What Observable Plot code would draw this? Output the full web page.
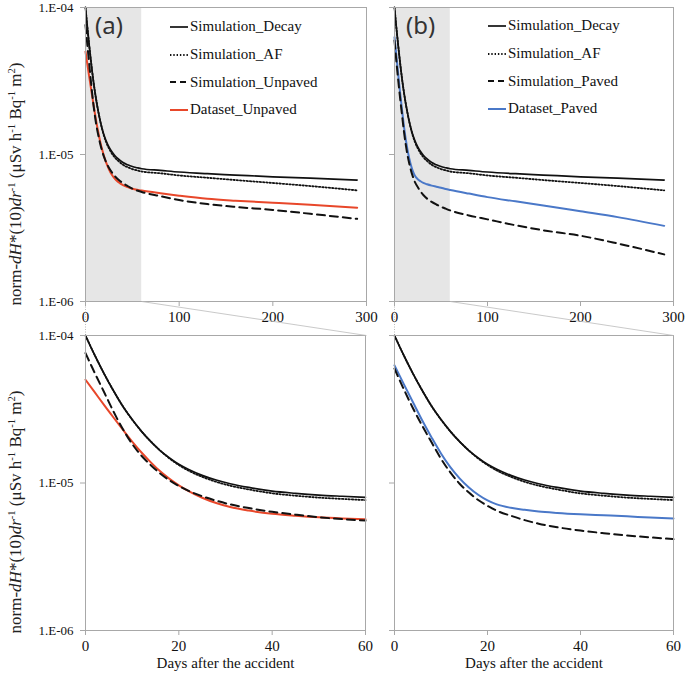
<!DOCTYPE html>
<html><head><meta charset="utf-8">
<script src="https://cdn.jsdelivr.net/npm/d3@7"></script>
<script src="https://cdn.jsdelivr.net/npm/@observablehq/plot@0.6"></script>
<style>
body{margin:0;background:#fff;}
#root{position:relative;width:685px;height:675px;overflow:hidden;font-family:"Liberation Serif","Times New Roman",serif;background:#fff;}
#root svg{position:absolute;}
.ytitle{position:absolute;white-space:nowrap;font-size:17px;color:#222;transform:translate(-50%,-50%) rotate(-90deg);line-height:1;}
.ytitle sup{font-size:0.62em;vertical-align:0.55em;line-height:0;}
.legend{position:absolute;font-size:15px;color:#111;}
.legend .row{display:flex;align-items:center;height:27.7px;}
.legend svg{position:static !important;margin-right:1px;}
.tag{position:absolute;font-family:"Noto Sans",sans-serif;font-size:24px;color:#333;line-height:1;}
</style></head><body><div id="root"></div>
<script>
// ---- data ----
const days = [0,2,4,6,8,10,12,14,16,18,20,22,25,28,31,35,40,45,50,55,60,80,100,130,160,200,240,290];
const simDecay = [1.0e-4,7.33e-5,5.5e-5,4.22e-5,3.31e-5,2.69e-5,2.24e-5,1.91e-5,1.66e-5,1.48e-5,1.34e-5,1.24e-5,1.127e-5,1.047e-5,9.89e-6,9.33e-6,8.81e-6,8.51e-6,8.28e-6,8.13e-6,8.0e-6,7.8e-6,7.6e-6,7.4e-6,7.25e-6,7.05e-6,6.9e-6,6.7e-6];
const simAF = [1.0e-4,7.33e-5,5.5e-5,4.22e-5,3.31e-5,2.69e-5,2.24e-5,1.91e-5,1.66e-5,1.466e-5,1.324e-5,1.216e-5,1.102e-5,1.019e-5,9.59e-6,9.04e-6,8.51e-6,8.2e-6,7.96e-6,7.8e-6,7.66e-6,7.45e-6,7.2e-6,6.95e-6,6.7e-6,6.4e-6,6.1e-6,5.7e-6];
const simUnpaved = [7.59e-5,5.56e-5,4.12e-5,3.05e-5,2.32e-5,1.84e-5,1.53e-5,1.32e-5,1.16e-5,1.042e-5,9.55e-6,8.87e-6,8.13e-6,7.59e-6,7.16e-6,6.76e-6,6.38e-6,6.1e-6,5.86e-6,5.69e-6,5.56e-6,5.2e-6,4.9e-6,4.6e-6,4.4e-6,4.2e-6,3.95e-6,3.65e-6];
const dataUnpaved = [5.01e-5,4.11e-5,3.37e-5,2.78e-5,2.3e-5,1.91e-5,1.61e-5,1.38e-5,1.2e-5,1.067e-5,9.64e-6,8.83e-6,7.94e-6,7.31e-6,6.87e-6,6.5e-6,6.19e-6,6.0e-6,5.85e-6,5.75e-6,5.68e-6,5.45e-6,5.25e-6,5.0e-6,4.85e-6,4.7e-6,4.55e-6,4.35e-6];
const simPaved = [5.96e-5,4.32e-5,3.2e-5,2.43e-5,1.88e-5,1.46e-5,1.18e-5,9.89e-6,8.61e-6,7.67e-6,7.0e-6,6.49e-6,6.0e-6,5.6e-6,5.3e-6,5.01e-6,4.76e-6,4.57e-6,4.41e-6,4.28e-6,4.16e-6,3.85e-6,3.62e-6,3.3e-6,3.05e-6,2.8e-6,2.48e-6,2.09e-6];
const dataPaved = [6.27e-5,4.68e-5,3.51e-5,2.64e-5,2.03e-5,1.585e-5,1.28e-5,1.076e-5,9.33e-6,8.32e-6,7.62e-6,7.16e-6,6.79e-6,6.58e-6,6.41e-6,6.27e-6,6.14e-6,6.04e-6,5.94e-6,5.83e-6,5.74e-6,5.42e-6,5.13e-6,4.8e-6,4.5e-6,4.11e-6,3.75e-6,3.27e-6];

const yTicks = [1e-4, 1e-5, 1e-6];
const yTickLabels = ["1.E-04", "1.E-05", "1.E-06"];
const xTicksTop = [0, 100, 200, 300];
const xTicksBottom = [0, 20, 40, 60];
const zoomWindow = [0, 60];
const panelTags = ["(a)", "(b)"];
const legendA = ["Simulation_Decay", "Simulation_AF", "Simulation_Unpaved", "Dataset_Unpaved"];
const legendB = ["Simulation_Decay", "Simulation_AF", "Simulation_Paved", "Dataset_Paved"];
const xTitle = "Days after the accident";

// ---- styles ----
const FONT = '"Liberation Serif", "Times New Roman", serif';
const RED = "#e8472a", BLUE = "#4a78c8", GRID = "#a8a8a8", SHADE = "#e6e6e6";
const styles = [
  {stroke: "#111", strokeWidth: 1.7},
  {stroke: "#111", strokeWidth: 1.8, strokeDasharray: "1.4,1.9"},
  {stroke: "#111", strokeWidth: 2, strokeDasharray: "8,5"},
  null
];

const root = document.getElementById("root");

function rows(vals, maxDay) {
  return days.map((d, i) => ({day: d, value: vals[i]})).filter(r => r.day <= maxDay);
}

function makePanel({left, top, width, height, mL, mR, mT, mB, xMax, xTicks, labelsY, series, color, top_, withTitle}) {
  const fmt = d => labelsY ? yTickLabels[yTicks.indexOf(d)] : "";
  const marks = [];
  if (top_) {
    marks.push(Plot.rect([{x1: zoomWindow[0], x2: zoomWindow[1]}], {x1: "x1", x2: "x2", fill: SHADE}));
  }
  const [decay, af, sim, dat] = series;
  marks.push(
    Plot.line(rows(decay, xMax), {x: "day", y: "value", curve: "monotone-x", ...styles[0]}),
    Plot.line(rows(af, xMax), {x: "day", y: "value", curve: "monotone-x", ...styles[1]}),
    Plot.line(rows(dat, xMax), {x: "day", y: "value", curve: "monotone-x", stroke: color, strokeWidth: 2}),
    Plot.line(rows(sim, xMax), {x: "day", y: "value", curve: "monotone-x", ...styles[2]}),
    Plot.frame({stroke: GRID, strokeWidth: 1}),
    Plot.axisY({ticks: yTicks, tickFormat: fmt, tickSize: 5, tickPadding: 7, fontSize: 13, fontFamily: FONT, stroke: GRID, fill: "#111", label: null}),
    Plot.axisX({ticks: xTicks, tickFormat: d => String(d), tickSize: 5, tickPadding: 5, fontSize: 15, fontFamily: FONT, stroke: GRID, fill: "#111", label: null})
  );
  if (top_) {
    const pxPerDecade = (height - mT - mB) / 2;
    const gapDecades = 34 / pxPerDecade;
    const yLow = yTicks[2] / Math.pow(10, gapDecades);
    marks.push(
      Plot.link([{x1: zoomWindow[1], y1: yTicks[2], x2: xTicksTop[3], y2: yLow}], {x1: "x1", y1: "y1", x2: "x2", y2: "y2", stroke: "#bbb", strokeWidth: 0.8, clip: false}),
      Plot.link([{x1: zoomWindow[0], y1: yTicks[2], x2: zoomWindow[0], y2: yLow}], {x1: "x1", y1: "y1", x2: "x2", y2: "y2", stroke: "#aaa", strokeWidth: 0.8, strokeDasharray: "1,1.5", clip: false})
    );
  }
  if (withTitle) {
    marks.push(Plot.text([xTitle], {text: d => d, frameAnchor: "bottom", dy: 37, fontSize: 15, fontFamily: FONT, fill: "#111"}));
  }
  const svg = Plot.plot({
    width, height, marginLeft: mL, marginRight: mR, marginTop: mT, marginBottom: mB,
    x: {type: "linear", domain: [0, xMax]},
    y: {type: "log", domain: [yTicks[2], yTicks[0]]},
    style: {fontFamily: FONT, fontSize: "15px", background: "transparent", overflow: "visible", color: "#111"},
    marks
  });
  svg.style.left = left + "px";
  svg.style.top = top + "px";
  root.appendChild(svg);
}

makePanel({left: 0, top: 320, width: 370, height: 355, mL: 85, mR: 5, mT: 15, mB: 45, xMax: 60, xTicks: xTicksBottom, labelsY: true, series: [simDecay, simAF, simUnpaved, dataUnpaved], color: RED, top_: false, withTitle: true});
makePanel({left: 340, top: 320, width: 345, height: 355, mL: 54, mR: 12, mT: 15, mB: 45, xMax: 60, xTicks: xTicksBottom, labelsY: false, series: [simDecay, simAF, simPaved, dataPaved], color: BLUE, top_: false, withTitle: true});
makePanel({left: 0, top: 0, width: 370, height: 330, mL: 85, mR: 4, mT: 7, mB: 29, xMax: 300, xTicks: xTicksTop, labelsY: true, series: [simDecay, simAF, simUnpaved, dataUnpaved], color: RED, top_: true, withTitle: false});
makePanel({left: 340, top: 0, width: 345, height: 330, mL: 54, mR: 12, mT: 7, mB: 29, xMax: 300, xTicks: xTicksTop, labelsY: false, series: [simDecay, simAF, simPaved, dataPaved], color: BLUE, top_: true, withTitle: false});

// y-axis titles
const yTitleHTML = 'norm-<i>dH</i>*(10)<i>dr</i><sup>-1</sup> (μSv h<sup>-1</sup> Bq<sup>-1</sup> m<sup>2</sup>)';
[[15, 184], [15, 512]].forEach(([x, y]) => {
  const d = document.createElement("div");
  d.className = "ytitle";
  d.innerHTML = yTitleHTML;
  d.style.left = x + "px"; d.style.top = y + "px";
  root.appendChild(d);
});

// panel tags
[[95, 13, panelTags[0]], [406, 13, panelTags[1]]].forEach(([x, y, t]) => {
  const d = document.createElement("div");
  d.className = "tag"; d.textContent = t;
  d.style.left = x + "px"; d.style.top = y + "px";
  root.appendChild(d);
});

// legends
function legend(x, y, labels, color) {
  const d = document.createElement("div");
  d.className = "legend";
  d.style.left = x + "px"; d.style.top = y + "px";
  const st = [styles[0], styles[1], styles[2], {stroke: color, strokeWidth: 2}];
  labels.forEach((lab, i) => {
    const r = document.createElement("div");
    r.className = "row";
    const s = st[i];
    r.innerHTML = `<svg width="20" height="10"><line x1="1" x2="19" y1="5" y2="5" stroke="${s.stroke}" stroke-width="${s.strokeWidth}" ${s.strokeDasharray ? `stroke-dasharray="${i === 2 ? "6,4" : s.strokeDasharray}"` : ""}/></svg><span>${lab}</span>`;
    d.appendChild(r);
  });
  root.appendChild(d);
}
legend(169, 13, legendA, RED);
legend(487, 12, legendB, BLUE);
</script>
</body></html>
